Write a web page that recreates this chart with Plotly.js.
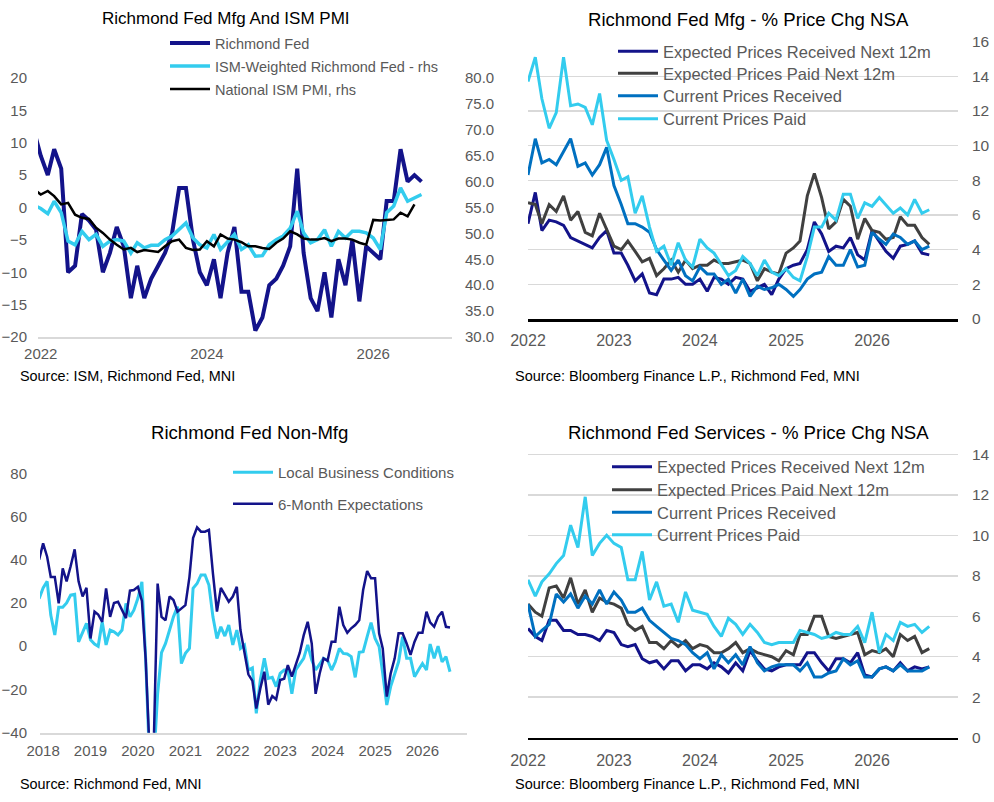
<!DOCTYPE html>
<html>
<head>
<meta charset="utf-8">
<script src="https://cdn.plot.ly/plotly-3.0.1.min.js"></script>
<style>html,body{margin:0;padding:0;background:#fff;}#chart{width:994px;height:802px;}</style>
</head>
<body>
<div id="chart"></div>
<script>
// ---------- DATA ----------
// Panel 1: Richmond Fed Mfg and ISM PMI (monthly, Dec 2021 onward)
const p1Start = [2021, 12];
const richmondFed = [12, 8, 5, 9, 6, -10, -9, -1, -2, -3.4, -10, -7, -3, -6, -14, -9, -14, -11, -9, -7, -4, 3, 3, -5, -10, -12, -8, -14, -7, -3, -13, -13, -19, -17, -12, -11, -9, -6, 6, -7, -14, -16, -10, -17, -8, -12, -5, -14.5, -6, -7, -8, 1, 1, 9, 4, 5, 4];
const ismWeighted = [55.5, 54.8, 53.8, 56.2, 54, 48.5, 47.8, 50.4, 48.8, 49.8, 47.5, 48.5, 48.8, 48.5, 46.2, 48.2, 47.2, 47.7, 47.7, 48.8, 49.5, 50.7, 52, 49.1, 47.8, 47.2, 49.8, 46.9, 48.5, 49.8, 46.9, 47.8, 45.6, 45.7, 47.8, 48.8, 49.5, 51, 54.3, 50.1, 48.2, 48.8, 50.7, 47.5, 50.4, 49.1, 50.4, 50.4, 50.1, 49.1, 46.9, 54, 55.3, 58.8, 56.2, 56.9, 57.5];
const ismPMI = [58.6, 57.5, 58.2, 57.2, 55.6, 55.9, 53.6, 53, 52.8, 51.1, 50.1, 48.8, 47.8, 46.9, 47.2, 46.4, 46.8, 46.6, 46.4, 47.5, 48.5, 48.8, 47.2, 46.8, 46.9, 48.5, 47.5, 49.8, 49, 48.8, 48.3, 47.5, 47.5, 47.2, 47, 48.2, 49, 50.4, 49.8, 49, 48.8, 48.8, 49.1, 48.5, 49, 49, 48.8, 48.2, 47.8, 52.6, 52.5, 52.6, 52.7, 54, 53.3, 55.6];
const p1TickVals = ['2022-01-01', '2024-01-01', '2026-01-01'];
const p1TickText = ['2022', '2024', '2026'];

// Panel 2: Richmond Fed Mfg - % price change (monthly, Jan 2022 onward)
const p2Start = [2022, 1];
const mfgExpRecv = [5.5, 7.3, 5.1, 5.7, 5.6, 5.4, 4.7, 4.5, 4.3, 4.1, 4.7, 5.1, 3.8, 3.8, 3.1, 2.2, 2.6, 1.5, 1.4, 2.3, 2.3, 2.4, 2.0, 2.0, 2.3, 1.6, 2.4, 2.3, 2.0, 2.4, 2.3, 1.6, 1.8, 2.0, 1.4, 2.3, 2.9, 3.1, 3.2, 4.0, 5.6, 4.9, 3.9, 4.2, 4.1, 4.7, 3.7, 3.4, 5.1, 4.5, 3.9, 3.5, 4.2, 4.3, 4.5, 3.8, 3.7];
const mfgExpPaid = [6.7, 6.6, 5.5, 6.6, 6.2, 7.1, 5.7, 6.2, 5.0, 4.8, 6.1, 5.2, 4.2, 4.0, 4.5, 3.9, 3.3, 3.5, 2.5, 2.9, 3.4, 2.7, 3.4, 2.9, 3.1, 3.1, 3.4, 3.2, 3.2, 3.3, 3.4, 3.2, 2.2, 2.9, 2.7, 2.6, 3.8, 4.1, 4.5, 7.1, 8.4, 7.0, 5.2, 5.6, 6.9, 6.5, 4.6, 5.8, 5.1, 5.0, 4.6, 4.7, 5.9, 5.4, 5.4, 4.7, 4.3];
const mfgCurRecv = [8.3, 10.4, 9.0, 9.2, 8.9, 9.7, 10.4, 8.8, 9.0, 8.3, 8.9, 9.9, 7.7, 6.6, 5.5, 5.5, 5.3, 5.0, 4.0, 3.4, 2.8, 3.4, 2.5, 2.2, 3.0, 2.6, 2.6, 2.0, 2.3, 1.5, 2.3, 1.3, 1.9, 1.7, 1.8, 2.0, 1.7, 1.3, 1.7, 2.3, 2.6, 2.7, 3.6, 3.1, 3.1, 4.0, 3.0, 3.1, 5.0, 4.6, 4.3, 4.9, 4.7, 4.3, 4.5, 4.0, 4.2];
const mfgCurPaid = [13.7, 15.1, 12.7, 11.0, 11.9, 15.1, 12.3, 12.4, 12.2, 11.2, 13.0, 10.3, 9.2, 8.0, 8.2, 6.1, 7.1, 5.3, 3.9, 4.2, 3.1, 4.4, 3.4, 3.0, 4.6, 4.1, 3.8, 3.1, 2.5, 2.8, 3.6, 3.2, 2.5, 3.4, 2.7, 2.5, 2.9, 2.4, 2.2, 3.6, 5.3, 5.3, 6.1, 5.7, 7.2, 7.2, 5.8, 6.7, 6.5, 7.0, 6.6, 6.1, 6.4, 6.0, 6.9, 6.1, 6.3];
const p2TickVals = ['2022-01-01', '2023-01-01', '2024-01-01', '2025-01-01', '2026-01-01'];
const p2TickText = ['2022', '2023', '2024', '2025', '2026'];

// Panel 3: Richmond Fed Non-Mfg (monthly, Dec 2017 onward)
const p3Start = [2017, 12];
const localConditions = [22, 27, 30, 14.4, 5.2, 18, 18, 20, 23.7, 24, 2, 6, 10.6, 3, 1, 0, 11.3, 0.6, 7.5, 6.7, 5.2, 7.5, 19.8, 13.6, 16.7, 22.2, 29.8, -6, -55, -55, -22, -3, 1.3, 7.5, 13.6, 18.3, -8, -3.3, -1, 26.8, 29, 33, 33, 28.3, 13.6, 3.6, 9, 4.7, 9.8, 0.6, 7.5, -1, 0.5, -11, -10, -31, -15.6, -5.6, -14.9, -14.4, -18.7, -12.6, -11, -11, -22, -11, -8, -5.6, 0.6, -6.4, -11, -8.3, -5.6, -6.4, -11, -7.2, -1, -3.3, -3.6, -4.8, -14.4, -2.8, -2.5, 4.4, 10.9, 3.6, -0.2, -12.6, -27.2, -18.7, -12.6, -7.2, 4.4, -5.6, -5.6, -14.1, -11, -8, -11, 1, -5.6, 0, -7.2, -4.8, -11.8];
const expectations6m = [40, 47.6, 41.4, 32, 32, 19.8, 36, 30, 37, 44.8, 30, 23, 27, 3.6, 16, 14.7, 11.3, 26.8, 13.6, 20, 20.6, 16.7, 13, 25.7, 26, 27.5, 21, -6, -50, -48, 29, 13.6, 12, 23, 21.4, 16, 17.5, 19, 32, 50, 55, 53, 53, 53.8, 33.7, 16, 27, 23.7, 20.6, 23, 27.5, 7.5, -3.3, -13, -16, -28.8, -19.5, -11.8, -27, -23, -24.6, -15.6, -15, -8.7, -14, -8.7, -3, 5, 11.3, 1.3, -22, -12.6, -5.6, -6.7, 2.1, 2.1, 18.3, 9.8, 6.2, 8.3, 9.8, 12, 26, 34.8, 31.4, 31.4, 6, -1, -23.3, -12.6, -5.6, 6, 6, 1.3, -4, 2.1, 6.2, 6.2, 16, 11, 9, 13.6, 16, 9, 8.7];
const p3TickVals = ['2018-01-01', '2019-01-01', '2020-01-01', '2021-01-01', '2022-01-01', '2023-01-01', '2024-01-01', '2025-01-01', '2026-01-01'];
const p3TickText = ['2018', '2019', '2020', '2021', '2022', '2023', '2024', '2025', '2026'];

// Panel 4: Richmond Fed Services - % price change (monthly, Jan 2022 onward)
const p4Start = [2022, 1];
const svcExpRecv = [5.4, 5.0, 4.8, 5.8, 5.8, 5.3, 5.3, 5.1, 5.1, 5.0, 4.8, 5.3, 5.2, 4.6, 4.5, 4.6, 3.9, 3.7, 3.8, 3.4, 3.8, 3.8, 3.3, 3.6, 3.6, 3.4, 3.7, 3.5, 3.2, 3.7, 3.3, 4.3, 3.8, 3.4, 3.3, 3.5, 3.6, 3.6, 3.6, 4.2, 4.2, 3.7, 3.3, 3.9, 3.9, 3.7, 4.2, 3.1, 3.0, 3.4, 3.5, 3.3, 3.7, 3.3, 3.5, 3.4, 3.5];
const svcExpPaid = [6.6, 6.2, 6.0, 7.4, 7.5, 6.9, 7.9, 6.6, 7.3, 6.2, 6.9, 6.7, 6.6, 6.4, 5.6, 5.3, 5.5, 4.7, 4.7, 4.4, 4.8, 4.5, 4.8, 4.4, 4.6, 4.5, 4.2, 4.2, 4.4, 4.7, 4.2, 4.4, 4.2, 4.1, 4.0, 3.8, 4.3, 4.1, 5.1, 5.1, 6.0, 6.0, 5.0, 4.9, 5.0, 5.1, 5.2, 4.1, 4.3, 4.2, 4.4, 4.0, 5.1, 4.8, 5.0, 4.2, 4.4];
const svcCurRecv = [6.6, 5.0, 5.3, 5.6, 7.1, 6.7, 7.1, 6.4, 7.0, 6.6, 7.3, 6.6, 7.2, 6.8, 6.2, 6.2, 6.4, 5.8, 5.5, 5.2, 4.9, 4.8, 4.6, 4.2, 3.9, 4.2, 3.4, 4.1, 3.7, 4.1, 3.6, 4.5, 3.7, 3.3, 3.5, 3.6, 3.6, 3.6, 3.3, 3.7, 3.0, 3.0, 3.2, 3.3, 3.9, 3.6, 3.8, 3.0, 3.0, 3.4, 3.5, 3.3, 3.6, 3.3, 3.3, 3.3, 3.5];
const svcCurPaid = [7.8, 7.0, 7.7, 8.1, 8.6, 9.0, 10.5, 9.4, 11.9, 9.0, 9.6, 10.0, 9.6, 9.4, 7.8, 7.8, 9.2, 6.8, 7.7, 6.5, 6.6, 5.7, 7.2, 6.3, 6.2, 6.1, 5.5, 5.0, 5.9, 5.6, 5.1, 5.6, 5.2, 4.7, 4.6, 4.7, 4.7, 4.7, 5.3, 5.2, 5.1, 4.9, 5.0, 5.2, 5.1, 5.1, 5.5, 4.7, 6.2, 4.2, 5.1, 4.8, 5.7, 5.5, 5.6, 5.2, 5.5];
const p4TickVals = p2TickVals;
const p4TickText = p2TickText;

// ---------- HELPERS ----------
function monthDates(start, n) {
  const out = [];
  let y = start[0], m = start[1];
  for (let i = 0; i < n; i++) {
    out.push(y + '-' + String(m).padStart(2, '0') + '-01');
    m++; if (m > 12) { m = 1; y++; }
  }
  return out;
}
const W = 994, H = 802;
const px = x => x / W;
const py = y => 1 - y / H;

const NAVY = '#13138A', CYAN = '#33CCEE', BLUE = '#0070C0', GRAY = '#404040', BLACK = '#000000';
const TICK = '#595959';
const FONT = 'Liberation Sans, Arial, sans-serif';

function line(x, y, name, color, width, xa, ya, legend) {
  return {type: 'scatter', mode: 'lines', x: x, y: y, name: name, xaxis: xa, yaxis: ya,
    line: {color: color, width: width}, legend: legend, hoverinfo: 'skip'};
}

const traces = [
  line(monthDates(p1Start, richmondFed.length), richmondFed, 'Richmond Fed', NAVY, 4, 'x', 'y', 'legend'),
  line(monthDates(p1Start, ismWeighted.length), ismWeighted, 'ISM-Weighted Richmond Fed - rhs', CYAN, 3.5, 'x', 'y5', 'legend2'),
  line(monthDates(p1Start, ismPMI.length), ismPMI, 'National ISM PMI, rhs', BLACK, 2.5, 'x', 'y5', 'legend3'),

  line(monthDates(p2Start, mfgExpRecv.length), mfgExpRecv, 'Expected Prices Received Next 12m', NAVY, 3, 'x2', 'y2', 'legend4'),
  line(monthDates(p2Start, mfgExpPaid.length), mfgExpPaid, 'Expected Prices Paid Next 12m', GRAY, 3, 'x2', 'y2', 'legend5'),
  line(monthDates(p2Start, mfgCurRecv.length), mfgCurRecv, 'Current Prices Received', BLUE, 3, 'x2', 'y2', 'legend6'),
  line(monthDates(p2Start, mfgCurPaid.length), mfgCurPaid, 'Current Prices Paid', CYAN, 3, 'x2', 'y2', 'legend7'),

  line(monthDates(p3Start, localConditions.length), localConditions, 'Local Business Conditions', CYAN, 3, 'x3', 'y3', 'legend8'),
  line(monthDates(p3Start, expectations6m.length), expectations6m, '6-Month Expectations', NAVY, 2.5, 'x3', 'y3', 'legend9'),

  line(monthDates(p4Start, svcExpRecv.length), svcExpRecv, 'Expected Prices Received Next 12m', NAVY, 3, 'x4', 'y4', 'legend10'),
  line(monthDates(p4Start, svcExpPaid.length), svcExpPaid, 'Expected Prices Paid Next 12m', GRAY, 3, 'x4', 'y4', 'legend11'),
  line(monthDates(p4Start, svcCurRecv.length), svcCurRecv, 'Current Prices Received', BLUE, 3, 'x4', 'y4', 'legend12'),
  line(monthDates(p4Start, svcCurPaid.length), svcCurPaid, 'Current Prices Paid', CYAN, 3, 'x4', 'y4', 'legend13')
];

function xAxis(domain, anchor, range, tv, tt, lineColor, lineWidth, fontSize, standoff) {
  return {domain: domain, anchor: anchor, type: 'date', range: range, tickmode: 'array',
    tickvals: tv, ticktext: tt, showgrid: false, zeroline: false, showline: true,
    linecolor: lineColor, linewidth: lineWidth, ticks: '', ticklabelstandoff: standoff,
    tickfont: {family: FONT, size: fontSize, color: TICK}, fixedrange: true};
}
function yAxis(domain, anchor, range, dtick, side, grid, fontSize, standoff, fmt) {
  return {domain: domain, anchor: anchor, range: range, dtick: dtick, tick0: 0, side: side,
    showgrid: grid, gridcolor: '#D9D9D9', gridwidth: 1.5, zeroline: false, showline: false,
    ticks: '', ticklabelstandoff: standoff, tickformat: fmt || '',
    tickfont: {family: FONT, size: fontSize, color: TICK}, fixedrange: true};
}
// one legend per entry, placed at (text start x - 50, item centre y)
function legendAt(x, y, size) {
  return {x: px(x - 50), y: py(y), xanchor: 'left', yanchor: 'middle', bgcolor: 'rgba(0,0,0,0)',
    font: {family: FONT, size: size, color: '#595959'}, itemwidth: 40, borderwidth: 0};
}
function ann(text, x, y, size, xanchor) {
  return {text: text, x: px(x), y: py(y), xref: 'paper', yref: 'paper', showarrow: false,
    xanchor: xanchor, yanchor: 'middle', font: {family: FONT, size: size, color: '#000'}};
}

const layout = {
  width: W, height: H, margin: {l: 0, r: 0, t: 0, b: 0},
  paper_bgcolor: '#fff', plot_bgcolor: 'rgba(0,0,0,0)', showlegend: true,
  xaxis: xAxis([px(38), px(452)], 'y', ['2021-12-20', '2026-12-13'], p1TickVals, p1TickText, '#D9D9D9', 2, 15, 2),
  yaxis: yAxis([py(337), py(78)], 'x', [-20, 20], 5, 'left', false, 15, 10),
  yaxis5: Object.assign(yAxis([py(337), py(78)], 'x', [30, 80], 5, 'right', false, 15, 12, '.1f'), {overlaying: 'y'}),

  xaxis2: xAxis([px(528), px(958)], 'y2', ['2022-01-01', '2027-01-01'], p2TickVals, p2TickText, '#000', 2.5, 16, 5),
  yaxis2: yAxis([py(319), py(40.7)], 'x2', [0, 16.05], 2, 'right', true, 15.5, 13),

  xaxis3: xAxis([px(40), px(467)], 'y3', ['2017-12-08', '2026-12-10'], p3TickVals, p3TickText, '#D9D9D9', 2, 15, 3),
  yaxis3: yAxis([py(732.7), py(473.3)], 'x3', [-40, 80], 20, 'left', false, 15, 12),

  xaxis4: xAxis([px(528), px(958)], 'y4', ['2022-01-01', '2027-01-01'], p4TickVals, p4TickText, '#000', 2.5, 16, 7),
  yaxis4: yAxis([py(737.7), py(453.3)], 'x4', [0, 14.05], 2, 'right', true, 15.5, 13),

  legend: legendAt(215, 43, 14.5),
  legend2: legendAt(215, 66, 14.5),
  legend3: legendAt(215, 89, 14.5),
  legend4: legendAt(663, 51.5, 16.5),
  legend5: legendAt(663, 73.5, 16.5),
  legend6: legendAt(663, 96, 16.5),
  legend7: legendAt(663, 119, 16.5),
  legend8: legendAt(278, 472.5, 15),
  legend9: legendAt(278, 504, 15),
  legend10: legendAt(657, 467, 16.5),
  legend11: legendAt(657, 490, 16.5),
  legend12: legendAt(657, 512.5, 16.5),
  legend13: legendAt(657, 535, 16.5),

  annotations: [
    ann('Richmond Fed Mfg And ISM PMI', 226, 18, 17, 'center'),
    ann('Richmond Fed Mfg - % Price Chg NSA', 748, 19, 18.6, 'center'),
    ann('Richmond Fed Non-Mfg', 250, 432, 18.6, 'center'),
    ann('Richmond Fed Services - % Price Chg NSA', 748, 432, 18.6, 'center'),
    ann('Source: ISM, Richmond Fed, MNI', 18, 376, 14.4, 'left'),
    ann('Source: Bloomberg Finance L.P., Richmond Fed, MNI', 513, 376, 14.5, 'left'),
    ann('Source: Richmond Fed, MNI', 18, 784, 14.4, 'left'),
    ann('Source: Bloomberg Finance L.P., Richmond Fed, MNI', 513, 784, 14.5, 'left')
  ]
};

Plotly.newPlot('chart', traces, layout, {displayModeBar: false, staticPlot: true});
</script>
</body>
</html>
